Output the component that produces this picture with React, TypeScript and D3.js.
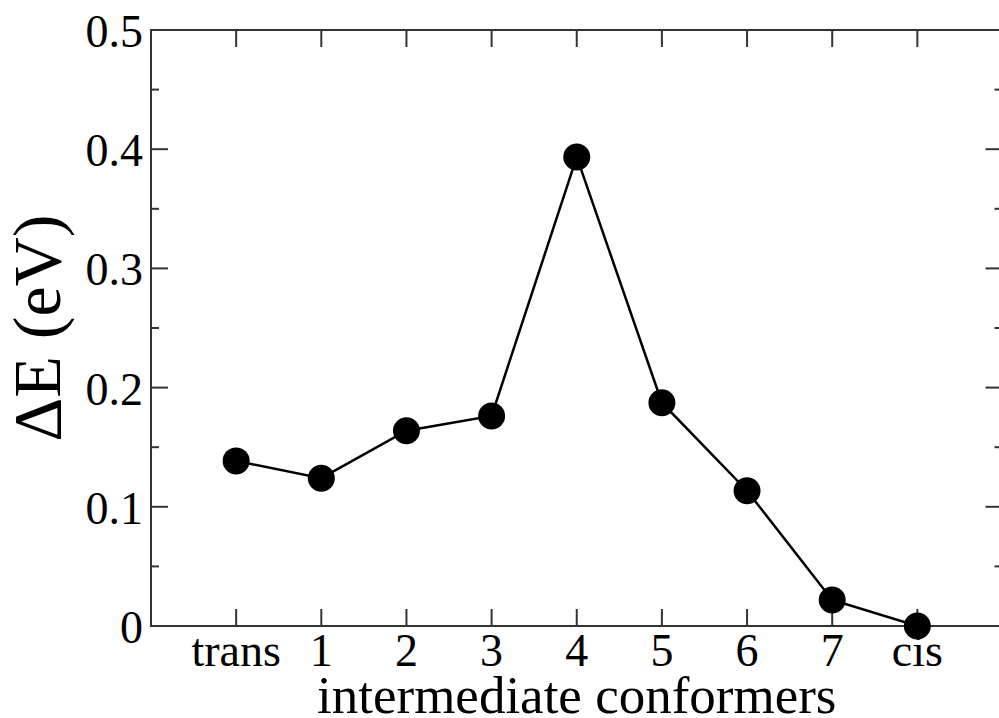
import React from "react";
import * as d3 from "d3";

const categories = ["trans", "1", "2", "3", "4", "5", "6", "7", "cis"];
const energies = [0.1385, 0.124, 0.1638, 0.1762, 0.3935, 0.1873, 0.1135, 0.0218, 0.0];
const yMajorTicks = [0, 0.1, 0.2, 0.3, 0.4, 0.5];
const yMinorTicks = [0.05, 0.15, 0.25, 0.35, 0.45];
const yTickLabels = ["0", "0.1", "0.2", "0.3", "0.4", "0.5"];

const W = 999;
const H = 718;
const left = 151;
const right = 1002.5;
const top = 30;
const bottom = 626;

export default function App() {
  const x = d3.scaleLinear().domain([-1, 9]).range([left, right]);
  const y = d3.scaleLinear().domain([0, 0.5]).range([bottom, top]);
  const line = d3
    .line<number>()
    .x((_, i) => x(i))
    .y((d) => y(d));
  const font = "'Liberation Serif', 'Times New Roman', serif";
  const axisColor = "#333";
  const major = 17;
  const minor = 8;

  return (
    <svg
      width={W}
      height={H}
      style={{ position: "absolute", left: 0, top: 0, background: "#fff" }}
      fontFamily={font}
    >
      <rect x={0} y={0} width={W} height={H} fill="#fff" />
      {/* ticks */}
      {categories.map((c, i) => (
        <g key={"xt" + c}>
          <line x1={x(i)} x2={x(i)} y1={bottom} y2={bottom - major} stroke={axisColor} strokeWidth={2} />
          <line x1={x(i)} x2={x(i)} y1={top} y2={top + major} stroke={axisColor} strokeWidth={2} />
          <text x={x(i)} y={666} fontSize={46} textAnchor="middle" fill="#000">
            {c}
          </text>
        </g>
      ))}
      {yMajorTicks.map((t, i) => (
        <g key={"ym" + t}>
          <line x1={left} x2={left + major} y1={y(t)} y2={y(t)} stroke={axisColor} strokeWidth={2} />
          <line x1={right} x2={right - major} y1={y(t)} y2={y(t)} stroke={axisColor} strokeWidth={2} />
          <text x={143} y={y(t) + 17} fontSize={46} textAnchor="end" fill="#000">
            {yTickLabels[i]}
          </text>
        </g>
      ))}
      {yMinorTicks.map((t) => (
        <g key={"yn" + t}>
          <line x1={left} x2={left + minor} y1={y(t)} y2={y(t)} stroke={axisColor} strokeWidth={2} />
          <line x1={right} x2={right - minor} y1={y(t)} y2={y(t)} stroke={axisColor} strokeWidth={2} />
        </g>
      ))}
      {/* frame */}
      <rect
        x={left}
        y={top}
        width={right - left}
        height={bottom - top}
        fill="none"
        stroke={axisColor}
        strokeWidth={2}
      />
      {/* data */}
      <path d={line(energies) || ""} fill="none" stroke="#000" strokeWidth={2.5} />
      {energies.map((v, i) => (
        <circle key={"pt" + i} cx={x(i)} cy={y(v)} r={13.5} fill="#000" />
      ))}
      {/* axis titles */}
      <text x={(left + right) / 2} y={713} fontSize={53} textAnchor="middle" fill="#000">
        intermediate conformers
      </text>
      <text
        transform={`translate(60, ${(top + bottom) / 2}) rotate(-90)`}
        fontSize={68}
        textAnchor="middle"
        fill="#000"
      >
        ΔE (eV)
      </text>
    </svg>
  );
}
